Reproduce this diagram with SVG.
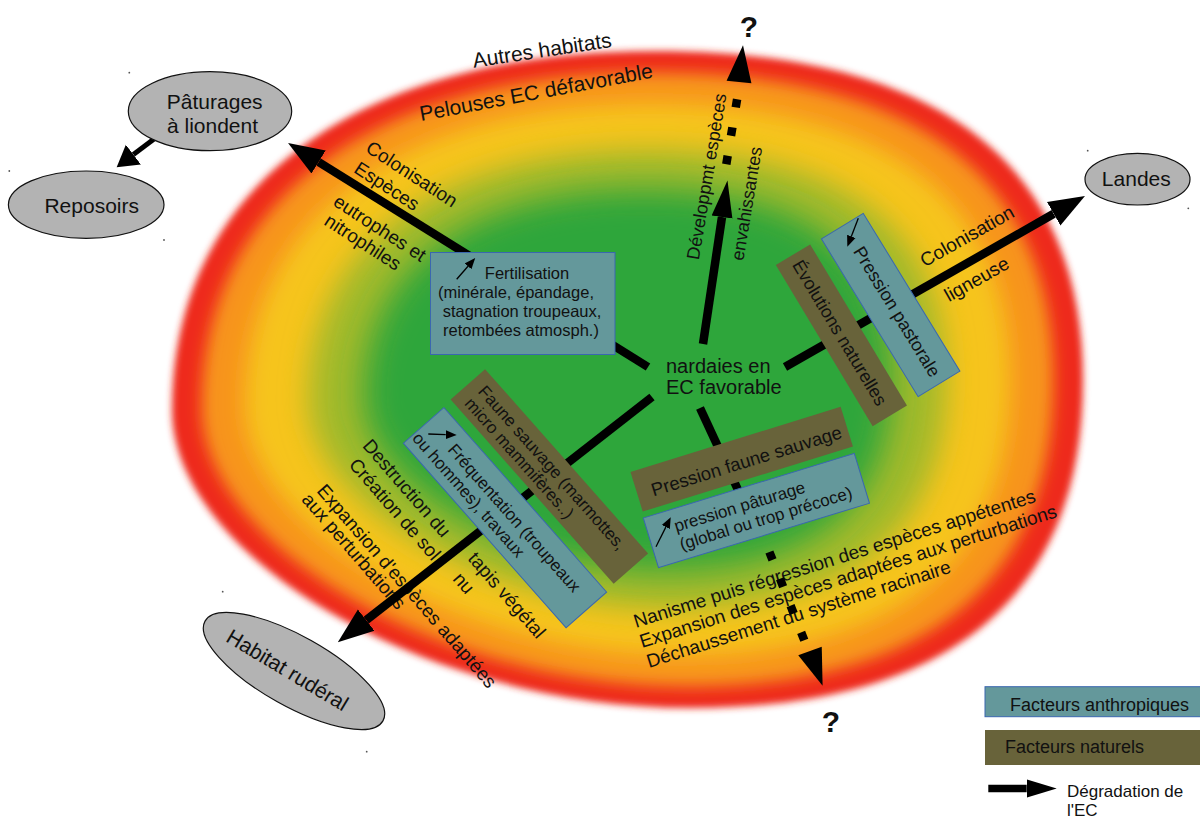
<svg xmlns="http://www.w3.org/2000/svg" width="1200" height="818" viewBox="0 0 1200 818">
  <defs>
    <style>
      .t { font-family: "Liberation Sans", Arial, sans-serif; fill: #111; }
      .f17 { font-size: 17px; }
      .f18 { font-size: 18px; }
      .f19 { font-size: 19px; }
      .f20 { font-size: 20px; }
      .f21 { font-size: 21px; }
      .q { font-size: 30px; font-weight: bold; }
      .ant { fill: #64989b; stroke: #3a67b0; stroke-width: 1; }
      .nat { fill: #68633a; }
      .node { fill: #b3b3b3; stroke: #111; stroke-width: 1.2; }
      .conn { stroke: #000; stroke-width: 8.5; fill: none; }
      .dash { stroke-dasharray: 8.5 20.3; }
      .tiny { stroke: #000; stroke-width: 1.3; fill: none; }
      .dot { fill: #555; }
    </style>
    <!-- outline of the conservation-state field, reused for each colour band -->
    <path id="fieldShape" d="M655,51 C937.5,51 1083,163 1083,380 C1083,596.5 949.4,708 690,708 C431,708 172,559 172,410 C172,187.4 355.5,51 655,51 Z"/>
    <filter id="b1" x="-5%" y="-5%" width="110%" height="110%"><feGaussianBlur stdDeviation="3.5"/></filter>
    <filter id="b2" x="-8%" y="-8%" width="116%" height="116%"><feGaussianBlur stdDeviation="8"/></filter>
    <filter id="b3" x="-12%" y="-12%" width="124%" height="124%"><feGaussianBlur stdDeviation="13"/></filter>
    <filter id="b4" x="-16%" y="-16%" width="132%" height="132%"><feGaussianBlur stdDeviation="20"/></filter>
    <filter id="b5" x="-22%" y="-22%" width="144%" height="144%"><feGaussianBlur stdDeviation="28"/></filter>
    <marker id="ah" markerUnits="userSpaceOnUse" markerWidth="40" markerHeight="30" viewBox="0 -15 40 30" refX="0" refY="0" orient="auto">
      <path d="M0,-13.5 L36,0 L0,13.5 Z" fill="#000"/>
    </marker>
    <marker id="ahN" markerUnits="userSpaceOnUse" markerWidth="40" markerHeight="26" viewBox="0 -13 40 26" refX="0" refY="0" orient="auto">
      <path d="M0,-10.5 L37,0 L0,10.5 Z" fill="#000"/>
    </marker>
    <marker id="ahS" markerUnits="userSpaceOnUse" markerWidth="24" markerHeight="28" viewBox="0 -14 24 28" refX="0" refY="0" orient="auto">
      <path d="M0,-12.5 L21,0 L0,12.5 Z" fill="#000"/>
    </marker>
    <marker id="ahL" markerUnits="userSpaceOnUse" markerWidth="32" markerHeight="22" viewBox="0 -11 32 22" refX="0" refY="0" orient="auto">
      <path d="M0,-9.2 L30,0 L0,9.2 Z" fill="#000"/>
    </marker>
    <marker id="ahT" markerUnits="userSpaceOnUse" markerWidth="12" markerHeight="10" viewBox="0 -5 12 10" refX="0" refY="0" orient="auto">
      <path d="M0,-4.5 L11,0 L0,4.5 Z" fill="#000"/>
    </marker>
    <path id="head" d="M0,-12.5 L37,0 L0,12.5 Z" fill="#000"/>
  </defs>

  <rect width="1200" height="818" fill="#fff"/>

  <!-- conservation-state field: green core fading through yellow and orange to a red rim -->
  <g id="field">
    <use href="#fieldShape" fill="#ee2c1f" filter="url(#b1)"/>
    <use href="#fieldShape" fill="#f7941d" filter="url(#b2)" transform="translate(627.5 379.5) scale(0.935) translate(-627.5 -379.5)"/>
    <use href="#fieldShape" fill="#f6c41b" filter="url(#b3)" transform="translate(627.5 379.5) scale(0.84) translate(-627.5 -379.5)"/>
    <use href="#fieldShape" fill="#a3ba2b" filter="url(#b4)" transform="translate(627.5 379.5) scale(0.70) translate(-627.5 -379.5)"/>
    <use href="#fieldShape" fill="#2da63b" filter="url(#b5)" transform="translate(627.5 379.5) scale(0.58) translate(-627.5 -379.5)"/>
  </g>

  <!-- stray handle dots -->
  <g id="dots">
    <circle class="dot" cx="129.3" cy="72.7" r="0.9"/>
    <circle class="dot" cx="9.3" cy="171" r="0.9"/>
    <circle class="dot" cx="164" cy="240" r="0.9"/>
    <circle class="dot" cx="1087.7" cy="150.7" r="0.9"/>
    <circle class="dot" cx="1188.3" cy="208.3" r="0.9"/>
    <circle class="dot" cx="222.7" cy="591.7" r="0.9"/>
    <circle class="dot" cx="366.7" cy="751.7" r="0.9"/>
  </g>

  <!-- zone labels -->
  <g id="zone-labels">
    <text class="t f21" transform="translate(542 50) rotate(-8.5)" text-anchor="middle" dy=".35em">Autres habitats</text>
    <text class="t f21" transform="translate(536 92) rotate(-10.6)" text-anchor="middle" dy=".35em">Pelouses EC défavorable</text>
  </g>

  <!-- process labels along the connectors -->
  <g id="process-labels" class="t f19">
    <text transform="translate(412 174) rotate(33)" text-anchor="middle" dy=".35em">Colonisation</text>
    <text transform="translate(387 186) rotate(33)" text-anchor="middle" dy=".35em">Espèces</text>
    <text transform="translate(380 228) rotate(33)" text-anchor="middle" dy=".35em">eutrophes et</text>
    <text transform="translate(363 242) rotate(33)" text-anchor="middle" dy=".35em">nitrophiles</text>

    <text class="f18" transform="translate(706.5 176.5) rotate(-80.5)" text-anchor="middle" dy=".35em">Développmt espèces</text>
    <text class="f18" transform="translate(746.5 203.5) rotate(-80.5)" text-anchor="middle" dy=".35em">envahissantes</text>

    <text transform="translate(967 236) rotate(-29.5)" text-anchor="middle" dy=".35em">Colonisation</text>
    <text transform="translate(976.5 279) rotate(-29.5)" text-anchor="middle" dy=".35em">ligneuse</text>

    <text transform="translate(407 488) rotate(49)" text-anchor="middle" dy=".35em">Destruction du</text>
    <text transform="translate(395 509) rotate(49)" text-anchor="middle" dy=".35em">Création de sol</text>
    <text transform="translate(407 586) rotate(49)" text-anchor="middle" dy=".35em">Expansion d'espèces adaptées</text>
    <text transform="translate(354 551) rotate(49)" text-anchor="middle" dy=".35em">aux perturbations</text>
    <text transform="translate(507 595) rotate(49)" text-anchor="middle" dy=".35em">tapis végétal</text>
    <text transform="translate(464 583) rotate(49)" text-anchor="middle" dy=".35em">nu</text>

    <text transform="translate(636 628) rotate(-17.5)">Nanisme puis régression des espèces appétentes</text>
    <text transform="translate(642 648) rotate(-17.5)">Expansion des espèces adaptées aux perturbations</text>
    <text transform="translate(649 668) rotate(-17.5)">Déchaussement du système racinaire</text>
  </g>

  <!-- connectors -->
  <g id="connectors">
    <line class="conn" x1="648" y1="367" x2="318.6" y2="162" marker-end="url(#ah)"/>
    <line class="conn" x1="703" y1="344" x2="722" y2="217" marker-end="url(#ahN)"/>
    <line class="conn dash" x1="726.3" y1="164.2" x2="737.1" y2="99.2"/>
    <use href="#head" transform="translate(739 82) rotate(-83.8)"/>
    <line class="conn" x1="785" y1="367" x2="1053.7" y2="213.8" marker-end="url(#ah)"/>
    <line class="conn" x1="652" y1="397" x2="366.2" y2="620.2" marker-end="url(#ah)"/>
    <line class="conn" x1="700" y1="408" x2="745" y2="505"/>
    <line class="conn dash" x1="769.4" y1="552" x2="804.5" y2="640.8"/>
    <use href="#head" transform="translate(810 651) rotate(70.1)"/>
    <line class="conn" style="stroke-width:5" x1="154" y1="139" x2="133.4" y2="154.6" marker-end="url(#ahS)"/>
  </g>

  <text class="t q" x="749" y="37" text-anchor="middle">?</text>
  <text class="t q" x="831" y="732" text-anchor="middle">?</text>

  <!-- habitat nodes -->
  <g id="node-paturages">
    <ellipse class="node" cx="210" cy="111.2" rx="81.7" ry="39.5"/>
    <text class="t f21" x="214.7" y="109.3" text-anchor="middle">Pâturages</text>
    <text class="t f21" x="212.5" y="132.7" text-anchor="middle">à liondent</text>
  </g>
  <g id="node-reposoirs">
    <ellipse class="node" cx="86.2" cy="204.7" rx="77.8" ry="33.7"/>
    <text class="t f21" x="91.7" y="213.3" text-anchor="middle">Reposoirs</text>
  </g>
  <g id="node-landes">
    <ellipse class="node" cx="1137.5" cy="179.2" rx="52.5" ry="25.8"/>
    <text class="t f21" x="1136.3" y="186" text-anchor="middle">Landes</text>
  </g>
  <g id="node-rudéral">
    <ellipse class="node" cx="294" cy="671" rx="102" ry="35" transform="rotate(29.3 294 671)"/>
    <text class="t f21" transform="translate(287.5 670) rotate(31)" text-anchor="middle" dy=".35em">Habitat rudéral</text>
  </g>
  <g id="node-centre">
    <text class="t f20" x="666" y="373">nardaies en</text>
    <text class="t f20" x="666" y="394">EC favorable</text>
  </g>

  <!-- factor boxes -->
  <g id="box-fertilisation">
    <rect class="ant" x="430.5" y="252.5" width="184.5" height="102"/>
    <line class="tiny" x1="456.7" y1="279.3" x2="468" y2="266.3" marker-end="url(#ahT)"/>
    <g class="t" style="font-size:16.5px" text-anchor="middle">
      <text x="527" y="279">Fertilisation</text>
      <text x="516" y="298">(minérale, épandage,</text>
      <text x="522" y="317">stagnation troupeaux,</text>
      <text x="521" y="336">retombées atmosph.)</text>
    </g>
  </g>

  <g id="box-evolutions" transform="translate(841.4 335.3) rotate(59)">
    <rect class="nat" x="-94" y="-20" width="188" height="40"/>
    <text class="t f18" x="-3" y="0" text-anchor="middle" dy=".35em">Évolutions naturelles</text>
  </g>

  <g id="box-pastorale">
    <g transform="translate(890.7 305) rotate(58.5)">
      <rect class="ant" x="-92.5" y="-24.5" width="185" height="49"/>
      <text class="t f18" x="9" y="-2" text-anchor="middle" dy=".35em">Pression pastorale</text>
    </g>
    <line class="tiny" x1="858.3" y1="218.3" x2="851.3" y2="236.4" marker-end="url(#ahT)"/>
  </g>

  <g id="box-faune" transform="translate(549.35 476.5) rotate(48.5)">
    <rect class="nat" x="-123" y="-23" width="246" height="46"/>
    <text class="t f17" x="-111" y="-2">Faune sauvage (marmottes,</text>
    <text class="t f17" x="-111" y="16">micro mammifères..)</text>
  </g>

  <g id="box-frequentation">
    <g transform="translate(505 517.7) rotate(48.6)">
      <rect class="ant" x="-123" y="-27" width="246" height="54"/>
      <text class="t f17" x="-89" y="-1">Fréquentation (troupeaux</text>
      <text class="t f17" x="-121" y="18">ou hommes), travaux</text>
    </g>
    <line class="tiny" x1="428.3" y1="434" x2="445.7" y2="434.6" marker-end="url(#ahT)"/>
  </g>

  <g id="box-pression-faune" transform="translate(741.7 459.2) rotate(-17.2)">
    <rect class="nat" x="-110" y="-20.75" width="220" height="41.5"/>
    <text class="t" style="font-size:18.5px" x="4" y="3" text-anchor="middle" dy=".35em">Pression faune sauvage</text>
  </g>

  <g id="box-paturage">
    <g transform="translate(756.4 510.6) rotate(-17)">
      <rect class="ant" x="-110.3" y="-26" width="220.6" height="52"/>
      <text class="t f17" x="-83" y="-3">pression pâturage</text>
      <text class="t f17" x="-83" y="16">(global ou trop précoce)</text>
    </g>
    <line class="tiny" x1="656" y1="546.7" x2="665.8" y2="527.1" marker-end="url(#ahT)"/>
  </g>

  <!-- legend -->
  <g id="legend">
    <rect class="ant" x="985" y="686.7" width="220" height="30"/>
    <text class="t" style="font-size:18px" x="1010" y="710.7">Facteurs anthropiques</text>
    <rect class="nat" x="985" y="730" width="220" height="35"/>
    <text class="t" style="font-size:18px" x="1005" y="752.7">Facteurs naturels</text>
    <line class="conn" style="stroke-width:7.7" x1="988.3" y1="788.5" x2="1026.7" y2="788.5" marker-end="url(#ahL)"/>
    <text class="t" style="font-size:17px" x="1067" y="797">Dégradation de</text>
    <text class="t" style="font-size:17px" x="1067" y="815.5">l'EC</text>
  </g>
</svg>
